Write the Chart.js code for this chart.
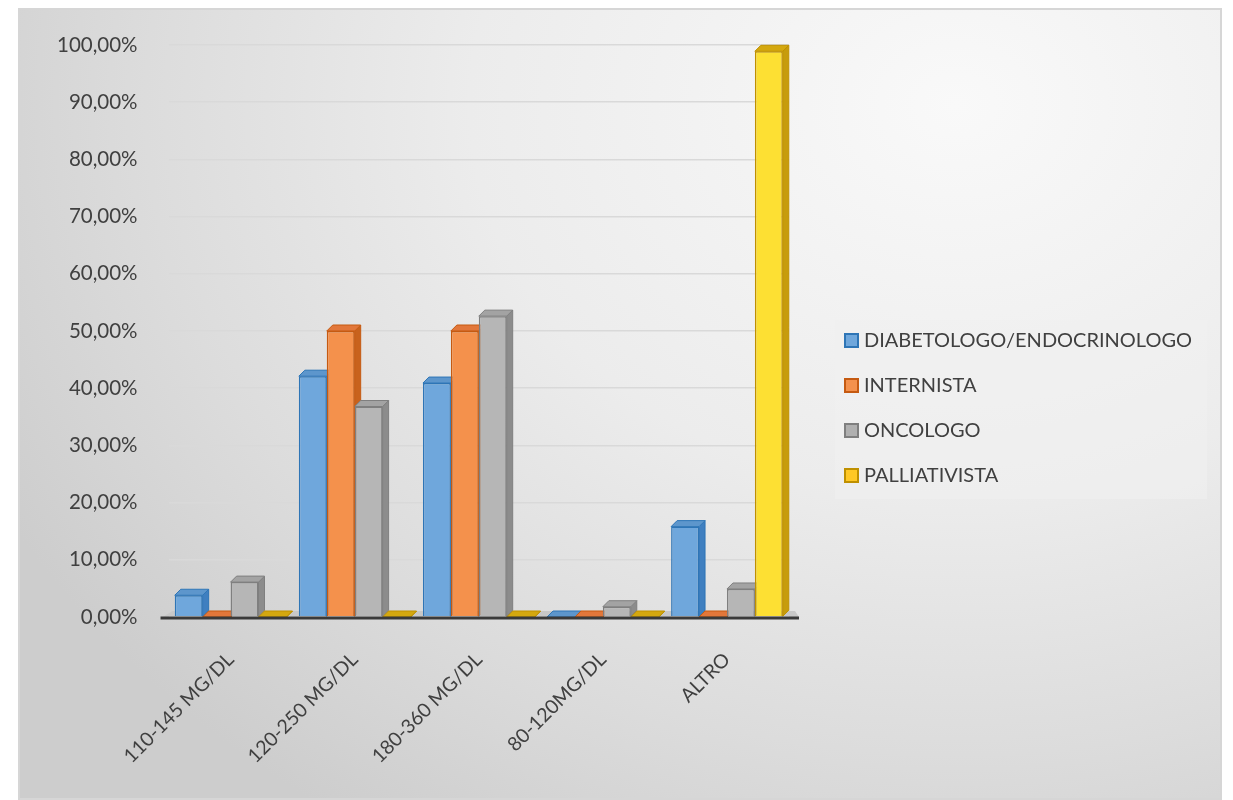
<!DOCTYPE html>
<html>
<head>
<meta charset="utf-8">
<script src="https://cdn.jsdelivr.net/npm/chart.js@4.4.1/dist/chart.umd.min.js"></script>
<style>
  html, body { margin: 0; padding: 0; background: #ffffff; }
  #card {
    position: absolute; left: 18px; top: 8px; width: 1204px; height: 792px;
    box-sizing: border-box; border: 2px solid #d6d6d6;
    background: radial-gradient(ellipse 90% 110% at 78% 12%, #f9f9f9 0%, #ececec 45%, #dcdcdc 75%, #cdcdcd 100%);
  }
  #myChart { position: absolute; left: 0; top: 0; }
  #legend {
    position: absolute; left: 815px; top: 310px; width: 372px; height: 179px;
    background: rgba(240,240,240,0.6);
    font-family: Lato, sans-serif; font-size: 20px; color: #404040;
  }
  #legend div { position: absolute; left: 9px; height: 22px; line-height: 22px; white-space: nowrap; }
  #legend span.box {
    display: inline-block; width: 11px; height: 11px; border: 2px solid; margin-right: 5px;
    vertical-align: -1px;
  }
</style>
</head>
<body>
<div id="card">
  <canvas id="myChart" width="1200" height="788"></canvas>
  <div id="legend"></div>
</div>
<script>
const categories = ['110-145 MG/DL', '120-250 MG/DL', '180-360 MG/DL', '80-120MG/DL', 'ALTRO'];
const seriesNames = ['DIABETOLOGO/ENDOCRINOLOGO', 'INTERNISTA', 'ONCOLOGO', 'PALLIATIVISTA'];

const diabetologo   = [3.8, 42.1, 40.9, 0, 15.8];
const internista    = [0, 50, 50, 0, 0];
const oncologo      = [6.1, 36.8, 52.6, 1.8, 4.9];
const palliativista = [0, 0, 0, 0, 98.9];

const yTicks = [0, 10, 20, 30, 40, 50, 60, 70, 80, 90, 100];

// front / border / top / side colours for each series
const fills   = ['#6fa7dc', '#f4914c', '#b6b6b6', '#fde033'];
const borders = ['#2e75b6', '#c55a11', '#7f7f7f', '#bf9000'];
const tops    = ['#5d96cc', '#e2773a', '#a3a3a3', '#d4a80f'];
const sides   = ['#3f7fc0', '#c8621d', '#8c8c8c', '#c79c0c'];
const legendFills = ['#6fa7dc', '#f4914c', '#b0b0b0', '#ffc825'];

const DEPTH = 6;
const txt = '#404040';

// depth faces drawn behind the front faces
const depthBars = {
  id: 'depthBars',
  beforeDatasetsDraw(chart) {
    const c = chart.ctx;
    chart.data.datasets.forEach((ds, di) => {
      chart.getDatasetMeta(di).data.forEach(bar => {
        const l = bar.x - bar.width / 2, r = bar.x + bar.width / 2;
        const y = bar.y, b = bar.base;
        c.save();
        c.fillStyle = sides[di];
        c.strokeStyle = borders[di];
        c.lineWidth = 1;
        c.beginPath();
        c.moveTo(r, y); c.lineTo(r + DEPTH, y - DEPTH);
        c.lineTo(r + DEPTH, b - DEPTH); c.lineTo(r, b); c.closePath();
        c.fill(); c.stroke();
        c.fillStyle = tops[di];
        c.beginPath();
        c.moveTo(l, y); c.lineTo(l + DEPTH, y - DEPTH);
        c.lineTo(r + DEPTH, y - DEPTH); c.lineTo(r, y); c.closePath();
        c.fill(); c.stroke();
        c.restore();
      });
    });
  }
};

// heavy floor line under the bars
const floorLine = {
  id: 'floorLine',
  afterDatasetsDraw(chart) {
    const c = chart.ctx, a = chart.chartArea;
    c.save();
    c.fillStyle = '#c8c8c8';
    c.beginPath();
    c.moveTo(a.left - 6, a.bottom); c.lineTo(a.left + 4, a.bottom - 6);
    c.lineTo(a.right + 6, a.bottom - 6); c.lineTo(a.right + 10, a.bottom);
    c.closePath();
    c.globalCompositeOperation = 'destination-over';
    c.fill();
    c.globalCompositeOperation = 'source-over';
    c.strokeStyle = '#3a3a3a';
    c.lineWidth = 3;
    c.beginPath();
    c.moveTo(a.left - 8, a.bottom + 1); c.lineTo(a.right + 10, a.bottom + 1);
    c.stroke();
    c.restore();
  }
};

const myChart = new Chart(document.getElementById('myChart').getContext('2d'), {
  type: 'bar',
  data: {
    labels: categories,
    datasets: [diabetologo, internista, oncologo, palliativista].map((d, i) => ({
      label: seriesNames[i],
      data: d,
      backgroundColor: fills[i],
      borderColor: borders[i],
      borderWidth: 1.5,
      categoryPercentage: 0.9,
      barPercentage: 1.0
    }))
  },
  options: {
    responsive: false,
    animation: false,
    layout: { padding: { left: 6, right: 431, top: 35, bottom: 7 } },
    plugins: {
      legend: { display: false },
      tooltip: { enabled: false }
    },
    scales: {
      x: {
        afterFit: s => { s.height = 174; },
        grid: { display: false },
        border: { display: false },
        ticks: {
          color: txt, minRotation: 45, maxRotation: 45, padding: 23,
          font: { family: 'Lato', size: 19.5 }
        }
      },
      y: {
        min: 0, max: 100,
        // wide gap to the labels, but no extra room above the top tick
        afterFit: s => { s.paddingTop = 0; s.paddingBottom = 0; },
        afterBuildTicks: axis => { axis.ticks = yTicks.map(v => ({ value: v })); },
        grid: { color: '#d9d9d9', lineWidth: 1.5, drawTicks: false },
        border: { display: false },
        ticks: {
          color: txt, padding: 31,
          font: { family: 'Lato', size: 20.5 },
          callback: v => v.toFixed(2).replace('.', ',') + '%'
        }
      }
    }
  },
  plugins: [depthBars, floorLine]
});

// legend built from the datasets
const legendEl = document.getElementById('legend');
myChart.data.datasets.forEach((ds, i) => {
  const row = document.createElement('div');
  row.style.top = (8 + i * 45) + 'px';
  row.innerHTML = '<span class="box" style="background:' + legendFills[i] +
    ';border-color:' + borders[i] + '"></span>' + ds.label;
  legendEl.appendChild(row);
});
</script>
</body>
</html>
